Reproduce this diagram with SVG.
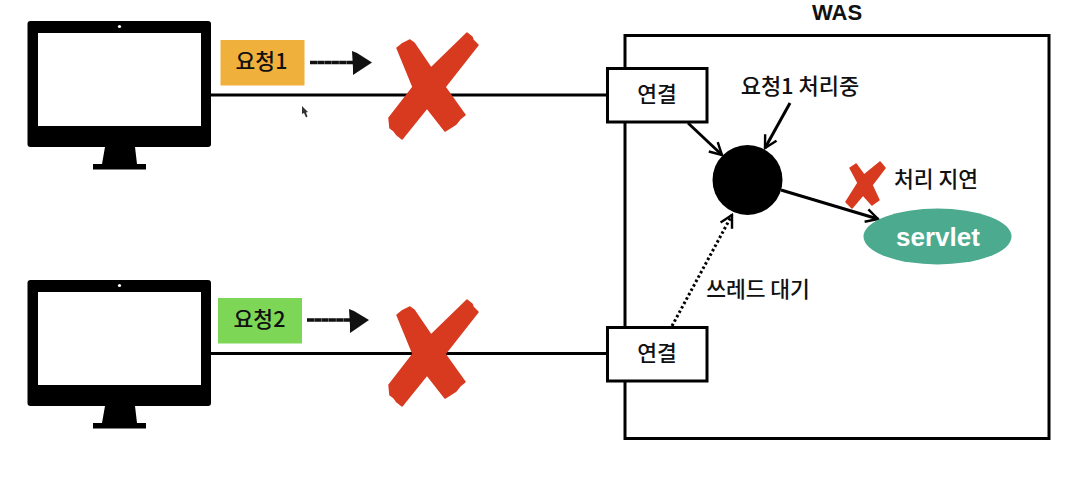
<svg xmlns="http://www.w3.org/2000/svg" width="1078" height="498" viewBox="0 0 1078 498">
<style>
text{font-family:"Noto Sans CJK KR","Liberation Sans",sans-serif;font-size:21.500px;font-weight:500;fill:#111;text-anchor:middle}
.c{fill:none;stroke:#000;stroke-width:3}
.d{fill:none;stroke:#000;stroke-width:3;marker-end:url(#open)}
.x{fill:#d83a20;stroke:#d83a20;stroke-width:1.500;stroke-linejoin:round}
.box{fill:#fff;stroke:#000;stroke-width:3}
.hand{fill:none;stroke:#111;stroke-width:3.500;stroke-dasharray:7 .3}
</style>
<defs>
<marker id="open" viewBox="0 0 16 16" refX="14" refY="8" markerWidth="16" markerHeight="16" markerUnits="userSpaceOnUse" orient="auto"><path d="M2 1.500 L14 8 L2 14.500" fill="none" stroke="#000" stroke-width="2.400"/></marker>
<g id="monitor"><rect x="27.500" y="21" width="183.500" height="126" rx="3" fill="#000"/><rect x="38" y="33" width="163" height="93" fill="#fff"/><circle cx="119.500" cy="26.500" r="1.600" fill="#fff"/><path d="M105 147H135L137 164H146V169.500H93V164H102Z" fill="#000"/></g>
<polygon id="bigx" points="397,48 402,44 410,40 414,43 431,68 467,33 472,37 473,40 478,45 445,87 465,115 460,119 456,124 445,131 427,108 402,139 397,135 394,131 390,128 389,118 413,87"/>
</defs>
<g id="connectors">
<path class="c" d="M211 95H607M211 353.500H607"/>
<path class="d" d="M688 123L722 155"/>
<path class="d" d="M790 103L765 148"/>
<path class="d" d="M781 190L878 219"/>
<path class="d" style="stroke-dasharray:2.500 2.500" d="M672 326L732 215"/>
</g>
<g id="was"><rect x="625" y="35.500" width="424" height="403" fill="none" stroke="#000" stroke-width="3"/><text x="837" y="20" style="font-family:'Liberation Sans',sans-serif;font-weight:700;font-size:22px">WAS</text></g>
<g id="client1"><use href="#monitor"/></g>
<g id="client2"><use href="#monitor" y="259"/></g>
<g id="req1"><rect x="220.500" y="40" width="84" height="45.500" fill="#f0b03c"/><text x="261.500" y="69">요청1</text>
<path class="hand" d="M310 62.500H360"/><path d="M352 51L357 53L372 62.500L356 73L353 75L353 68Z" fill="#111"/></g>
<g id="req2"><rect x="218" y="298" width="84" height="45.500" fill="#7ed657"/><text x="259.500" y="327">요청2</text>
<path class="hand" d="M307 320H357"/><path d="M349 309L354 311L369 320L353 331L350 333L350 326Z" fill="#111"/></g>
<g id="cross1"><use href="#bigx" class="x"/></g>
<g id="cross2"><use href="#bigx" class="x" y="267"/></g>
<g id="conn1"><rect class="box" x="607.500" y="68.500" width="99.500" height="53.500"/><text x="657" y="102">연결</text></g>
<g id="conn2"><rect class="box" x="607.500" y="327.500" width="99.500" height="53.500"/><text x="657" y="361">연결</text></g>
<g id="thread"><circle cx="747.500" cy="180" r="35" fill="#000"/></g>
<g id="servlet"><ellipse cx="937.500" cy="236.500" rx="74" ry="28" fill="#4caa8e"/><text x="938" y="246" style="font-family:'Liberation Sans',sans-serif;font-weight:700;font-size:26px;fill:#fff">servlet</text></g>
<g id="delay"><polygon class="x" points="850,168 856,164 864,175 880,162 885,168 872,185 879,200 872,205 863,195 852,208 846,202 858,183"/><text x="936" y="186.500">처리 지연</text></g>
<text x="800" y="93.500" style="font-size:22px">요청1 처리중</text>
<text x="758" y="296.500">쓰레드 대기</text>
<path id="cursor" d="M302 106L302 114L304 113L306 117.500L307.500 116.500L306 112.500L308 112Z" fill="#333"/>
</svg>
